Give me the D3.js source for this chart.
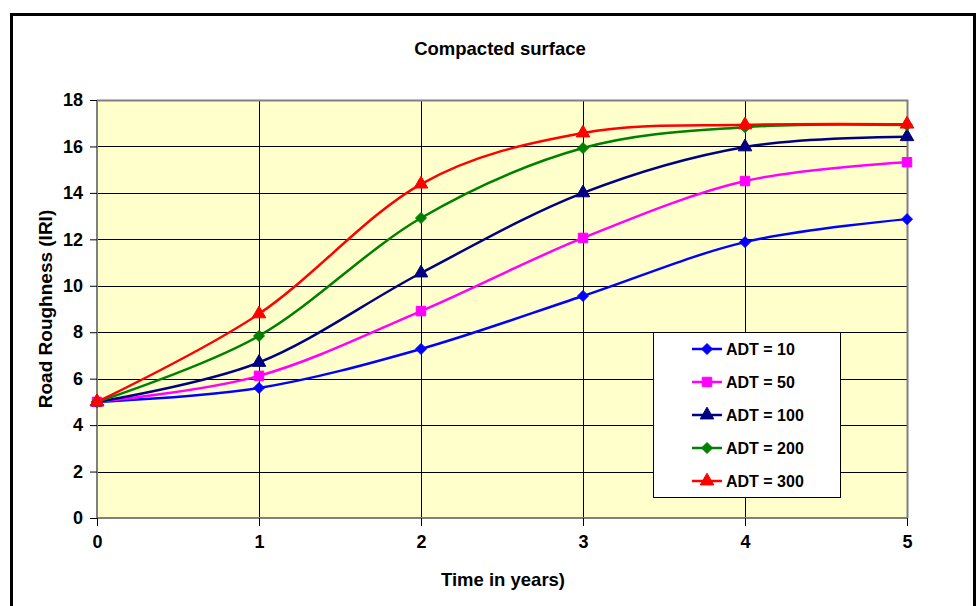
<!DOCTYPE html>
<html><head><meta charset="utf-8">
<script src="https://cdn.jsdelivr.net/npm/d3@7"></script>
<style>body{margin:0;background:#fff}svg{display:block;font-family:"Liberation Sans",Arial,sans-serif;font-weight:bold}</style>
</head><body>
<script>
const years = [0, 1, 2, 3, 4, 5];
const yTicks = [0, 2, 4, 6, 8, 10, 12, 14, 16, 18];
const seriesNames = ["ADT = 10", "ADT = 50", "ADT = 100", "ADT = 200", "ADT = 300"];
const adt10  = [5.0, 5.6, 7.28, 9.56, 11.88, 12.87];
const adt50  = [5.0, 6.12, 8.91, 12.06, 14.51, 15.32];
const adt100 = [5.0, 6.7, 10.55, 14.0, 15.98, 16.42];
const adt200 = [5.0, 7.84, 12.92, 15.93, 16.83, 16.92];
const adt300 = [5.0, 8.79, 14.38, 16.58, 16.93, 16.96];
const colors = ["#0000FF", "#FF00FF", "#000080", "#008000", "#FF0000"];
const markers = ["diamond", "square", "triangle", "diamond", "triangle"];
const values = [adt10, adt50, adt100, adt200, adt300];

const W = 977, H = 606;
const FONT = '"Liberation Sans",Arial,sans-serif';
const svg = d3.select("body").append("svg").attr("width", W).attr("height", H);
svg.append("rect").attr("x", 11.5).attr("y", 14.5).attr("width", 963).attr("height", 600)
  .attr("fill", "#fff").attr("stroke", "#000").attr("stroke-width", 3);

const L = 97, R = 907, T = 100, B = 518;
const x = d3.scaleLinear().domain([0, 5]).range([L, R]);
const y = d3.scaleLinear().domain([0, 18]).range([B, T]);

svg.append("rect").attr("x", L).attr("y", T).attr("width", R - L).attr("height", B - T).attr("fill", "#FFFFCC");

// gridlines
svg.append("g").selectAll("line").data(yTicks.slice(1, -1)).join("line")
  .attr("x1", L).attr("x2", R).attr("y1", d => Math.round(y(d)) + 0.5).attr("y2", d => Math.round(y(d)) + 0.5)
  .attr("stroke", "#000").attr("stroke-width", 1);
svg.append("g").selectAll("line").data(years.slice(1, -1)).join("line")
  .attr("y1", T).attr("y2", B).attr("x1", d => Math.round(x(d)) + 0.5).attr("x2", d => Math.round(x(d)) + 0.5)
  .attr("stroke", "#000").attr("stroke-width", 1);
// plot border top/right
svg.append("path").attr("d", `M${L},${T + 0.5}H${R + 0.5}V${B}`).attr("fill", "none").attr("stroke", "#808080").attr("stroke-width", 2);

// axes
const yAxis = d3.axisLeft(y).tickValues(yTicks).tickSize(7).tickPadding(7).tickFormat(d3.format("d"));
const gy = svg.append("g").attr("transform", `translate(${L},0)`).call(yAxis);
const xAxis = d3.axisBottom(x).tickValues(years).tickSize(8).tickPadding(9).tickFormat(d3.format("d"));
const gx = svg.append("g").attr("transform", `translate(0,${B})`).call(xAxis);
[gy, gx].forEach(g => {
  g.select(".domain").attr("stroke", "#808080").attr("stroke-width", 2);
  g.selectAll(".tick line").attr("stroke", "#000");
  g.selectAll(".tick text").attr("fill", "#000").style("font-size", "18px").style("font-weight", "bold")
   .style("font-family", FONT);
});
gx.select(".domain").attr("d", `M${L},0H${R}`);
gy.select(".domain").attr("d", `M0,${T}V${B}`);

// lines
const line = d3.line().x((d, i) => x(years[i])).y(d => y(d)).curve(d3.curveCatmullRom.alpha(0));
function marker(g, type, color, cx, cy) {
  let d;
  if (type === "diamond") d = "M0,-5.5L5.5,0L0,5.5L-5.5,0Z";
  else if (type === "square") d = d3.symbol(d3.symbolSquare, 90)();
  else d = d3.symbol(d3.symbolTriangle, 80)();
  g.append("path").attr("d", d).attr("transform", `translate(${cx},${cy})`).attr("fill", color).attr("stroke", color).attr("stroke-width", 1);
}
values.forEach((vals, s) => {
  const g = svg.append("g");
  g.append("path").attr("d", line(vals)).attr("fill", "none").attr("stroke", colors[s]).attr("stroke-width", 2.5);
  vals.forEach((v, i) => marker(g, markers[s], colors[s], x(years[i]), y(v)));
});

// legend
const lg = svg.append("g");
lg.append("rect").attr("x", 653.5).attr("y", 332.5).attr("width", 187).attr("height", 165).attr("fill", "#fff").attr("stroke", "#000").attr("stroke-width", 1);
seriesNames.forEach((n, s) => {
  const yy = 349 + s * 33;
  lg.append("line").attr("x1", 692).attr("x2", 722).attr("y1", yy).attr("y2", yy).attr("stroke", colors[s]).attr("stroke-width", 2.5);
  marker(lg, markers[s], colors[s], 707, yy);
  lg.append("text").attr("x", 726).attr("y", yy + 6).attr("font-size", 16).attr("fill", "#000").text(n);
});

// titles
svg.append("text").attr("x", 500).attr("y", 55).attr("text-anchor", "middle").attr("font-size", 18.5).text("Compacted surface");
svg.append("text").attr("x", 503).attr("y", 586).attr("text-anchor", "middle").attr("font-size", 18.5).text("Time in years)");
svg.append("text").attr("transform", "translate(52,309) rotate(-90)").attr("text-anchor", "middle").attr("font-size", 19).text("Road Roughness (IRI)");
</script>
</body></html>
